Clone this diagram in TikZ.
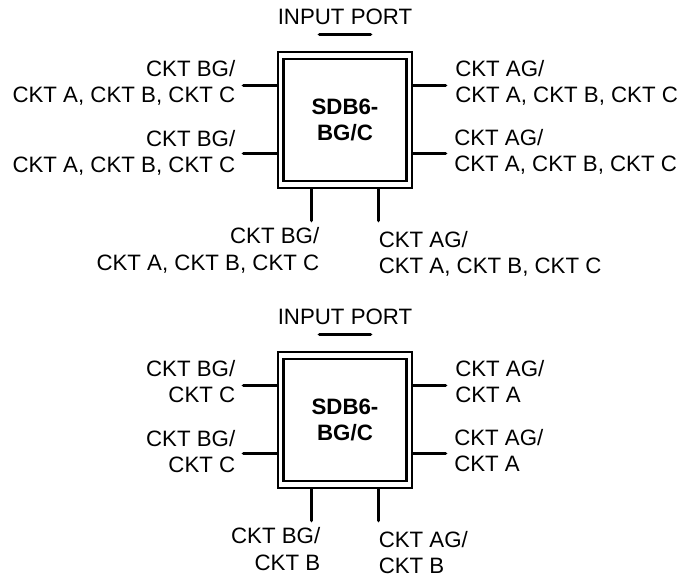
\documentclass[tikz,border=0pt]{standalone}
\usepackage{fontspec}
\setmainfont{Liberation Sans}
\usetikzlibrary{positioning, calc}
\tikzstyle{outerblock} = [rectangle, draw=black, line width=1.6pt, minimum width=100.5pt, minimum height=102pt, inner sep=0pt]
\tikzstyle{innerblock} = [rectangle, draw=black, line width=1.6pt, minimum width=92.25pt, minimum height=91.5pt, inner sep=0pt, align=center, font=\fontsize{16.7}{20}\selectfont\bfseries]
\tikzstyle{pin line} = [line width=2.8pt, line cap=round]
\tikzstyle{lbl} = [inner sep=0pt, font=\fontsize{16.7}{20}\selectfont]
\tikzstyle{lbl left} = [lbl, align=right, anchor=east]
\tikzstyle{lbl right} = [lbl, align=left, anchor=west]

\begin{document}
\begin{tikzpicture}[x=0.75pt, y=-0.75pt]
  \useasboundingbox (0,0) rectangle (680,576);

  % upper part
  \node[outerblock] (boxa) at (345,120) {};
  \node[innerblock] (corea) at (345,120) {SDB6-\\BG/C};
  \node[lbl] (inputa) at (345,17) {INPUT PORT};
  \coordinate (ina) at (319.5,34.5);
  \coordinate (inb) at (370.5,34.5);
  \draw[pin line] (ina) -- (inb);

  \node[lbl left] (lefta) at (235.5,83) {CKT BG/\\CKT A, CKT B, CKT C};
  \node[lbl left] (leftb) at (235.5,153) {CKT BG/\\CKT A, CKT B, CKT C};
  \node[lbl right] (righta) at (455,83) {CKT AG/\\CKT A, CKT B, CKT C};
  \node[lbl right] (rightb) at (454,152) {CKT AG/\\CKT A, CKT B, CKT C};
  \node[lbl left] (downa) at (319.5,250.5) {CKT BG/\\CKT A, CKT B, CKT C};
  \node[lbl right] (downb) at (378.5,254) {CKT AG/\\CKT A, CKT B, CKT C};

  \coordinate (la) at (243.5,85.5);
  \coordinate (lb) at (243.5,153.5);
  \coordinate (ra) at (445.5,85.5);
  \coordinate (rb) at (445.5,153.5);
  \coordinate (da) at (311.5,220.5);
  \coordinate (db) at (378.5,220.5);
  \draw[pin line] (la) -- (la -| boxa.west);
  \draw[pin line] (lb) -- (lb -| boxa.west);
  \draw[pin line] (ra) -- (ra -| boxa.east);
  \draw[pin line] (rb) -- (rb -| boxa.east);
  \draw[pin line] (da) -- (da |- boxa.south);
  \draw[pin line] (db) -- (db |- boxa.south);

  % lower part
  \node[outerblock] (boxb) at (345,420) {};
  \node[innerblock] (coreb) at (345,420) {SDB6-\\BG/C};
  \node[lbl] (inputb) at (345,317) {INPUT PORT};
  \coordinate (inc) at (319.5,334.5);
  \coordinate (ind) at (370.5,334.5);
  \draw[pin line] (inc) -- (ind);

  \node[lbl left] (leftc) at (235.5,381.5) {CKT BG/\\CKT C};
  \node[lbl left] (leftd) at (235.5,451.5) {CKT BG/\\CKT C};
  \node[lbl right] (rightc) at (455,381.5) {CKT AG/\\CKT A};
  \node[lbl right] (rightd) at (454,450.5) {CKT AG/\\CKT A};
  \node[lbl left] (downc) at (320.5,549) {CKT BG/\\CKT B};
  \node[lbl right] (downd) at (378.5,552.5) {CKT AG/\\CKT B};

  \coordinate (lc) at (243.5,385.5);
  \coordinate (ld) at (243.5,453.5);
  \coordinate (rc) at (445.5,385.5);
  \coordinate (rd) at (445.5,453.5);
  \coordinate (dc) at (311.5,520.5);
  \coordinate (dd) at (378.5,520.5);
  \draw[pin line] (lc) -- (lc -| boxb.west);
  \draw[pin line] (ld) -- (ld -| boxb.west);
  \draw[pin line] (rc) -- (rc -| boxb.east);
  \draw[pin line] (rd) -- (rd -| boxb.east);
  \draw[pin line] (dc) -- (dc |- boxb.south);
  \draw[pin line] (dd) -- (dd |- boxb.south);
\end{tikzpicture}
\end{document}
